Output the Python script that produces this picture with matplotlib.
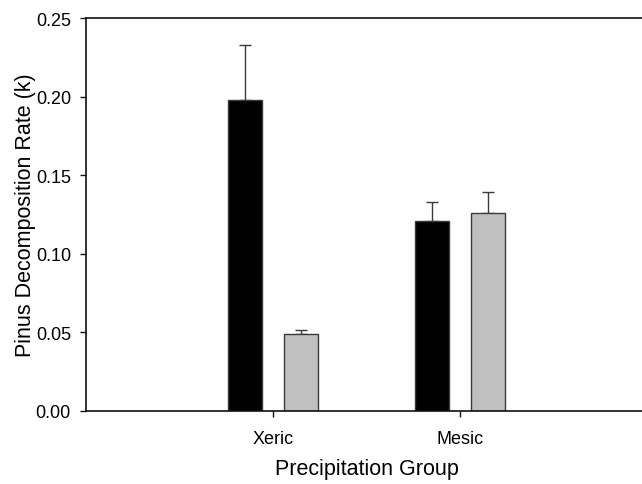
import numpy as np
import matplotlib
matplotlib.use("Agg")
import matplotlib.pyplot as plt

plt.rcParams['font.family'] = ['Liberation Sans', 'DejaVu Sans']

# data
groups = ['Xeric', 'Mesic']
series_a = [0.198, 0.121]      # black bars
series_a_err = [0.035, 0.012]
series_b = [0.049, 0.126]      # grey bars
series_b_err = [0.0023, 0.0135]

fig = plt.figure(figsize=(6.42, 4.85), dpi=100)
W, H = 642, 485
left, right = 86, 647
bottom, top = 411.7, 19
ax = fig.add_axes([left / W, (H - bottom) / H, (right - left) / W, (bottom - top) / H])

x = np.arange(1, len(groups) + 1)
width = 0.182
offset = 0.15
bar_edge = '#3a3a3a'
ax.bar(x - offset, series_a, width, color='black', edgecolor=bar_edge, linewidth=1, zorder=2)
ax.bar(x + offset, series_b, width, color='#c0c0c0', edgecolor=bar_edge, linewidth=1, zorder=2)
ax.errorbar(x - offset, series_a, yerr=[np.zeros(len(series_a)), series_a_err], fmt='none',
            ecolor='#3a3a3a', elinewidth=1, capsize=4, capthick=1, zorder=1)
ax.errorbar(x + offset, series_b, yerr=[np.zeros(len(series_b)), series_b_err], fmt='none',
            ecolor='#3a3a3a', elinewidth=1, capsize=4, capthick=1, zorder=1)

ax.set_xlim(0, 3)
ax.set_ylim(0, 0.25)
ax.set_xticks(x)
ax.set_xticklabels(groups)
ax.set_yticks(np.arange(0, 0.26, 0.05))
ax.set_yticklabels([f"{v:.2f}" for v in np.arange(0, 0.26, 0.05)])
ax.tick_params(axis='both', direction='out', length=4.3, width=1, labelsize=13, color='#111111')
ax.tick_params(axis='y', pad=6.5)
ax.tick_params(axis='x', pad=9.5)
for s in ['left', 'bottom', 'top']:
    ax.spines[s].set_linewidth(1.2)
    ax.spines[s].set_color('#111111')
ax.spines['right'].set_visible(False)

ax.set_xlabel('Precipitation Group', fontsize=15.5, labelpad=8)
ax.set_ylabel('Pinus Decomposition Rate (k)', fontsize=15.5, labelpad=0)

fig.savefig('out.png', dpi=100)
